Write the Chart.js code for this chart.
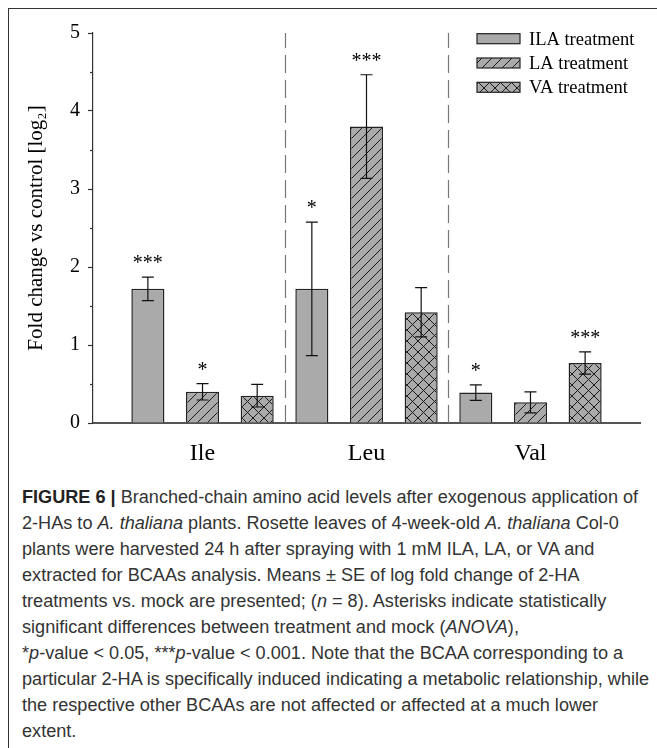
<!DOCTYPE html>
<html><head><meta charset="utf-8">
<script src="https://cdn.jsdelivr.net/npm/chart.js@4.4.1/dist/chart.umd.min.js"></script>
<style>
html,body{margin:0;padding:0;background:#fff;}
#wrap{position:relative;width:657px;height:748px;overflow:hidden;background:#fff;}
#frame{position:absolute;left:8px;top:8px;width:760px;height:800px;border-top:1px solid #333;border-left:1px solid #333;}
#c{position:absolute;left:0;top:0;}
#cap{position:absolute;left:22px;top:484px;font-family:"Liberation Sans",Arial,sans-serif;color:#333;line-height:26px;white-space:nowrap;font-size:16px;}
#cap b{font-weight:bold;color:#222;}
</style></head><body>
<div id="wrap">
<div id="frame"></div>
<canvas id="c" width="657" height="470"></canvas>
<div id="cap">
<div class="ln"><b>FIGURE 6 |</b> Branched-chain amino acid levels after exogenous application of</div>
<div class="ln">2-HAs to <i>A. thaliana</i> plants. Rosette leaves of 4-week-old <i>A. thaliana</i> Col-0</div>
<div class="ln">plants were harvested 24 h after spraying with 1 mM ILA, LA, or VA and</div>
<div class="ln">extracted for BCAAs analysis. Means ± SE of log fold change of 2-HA</div>
<div class="ln">treatments vs. mock are presented; (<i>n</i> = 8). Asterisks indicate statistically</div>
<div class="ln">significant differences between treatment and mock (<i>ANOVA</i>),</div>
<div class="ln">*<i>p</i>-value &lt; 0.05, ***<i>p</i>-value &lt; 0.001. Note that the BCAA corresponding to a</div>
<div class="ln" id="ln8">particular 2-HA is specifically induced indicating a metabolic relationship, while</div>
<div class="ln">the respective other BCAAs are not affected or affected at a much lower</div>
<div class="ln">extent.</div>
</div>
</div>
<script>
// ---- data ----
const categories = ['Ile', 'Leu', 'Val'];
const seriesNames = ['ILA treatment', 'LA treatment', 'VA treatment'];
const ilaMean = [1.72, 1.72, 0.39];
const ilaSE   = [0.15, 0.855, 0.10];
const laMean  = [0.40, 3.80, 0.265];
const laSE    = [0.105, 0.665, 0.135];
const vaMean  = [0.35, 1.42, 0.77];
const vaSE    = [0.145, 0.315, 0.143];
const ilaSig  = ['***', '*', '*'];
const laSig   = ['*', '***', ''];
const vaSig   = ['', '', '***'];
const yTicks  = [0, 1, 2, 3, 4, 5];

// ---- caption fit ----
(function(){
  const cap = document.getElementById('cap');
  const l8 = document.getElementById('ln8');
  const span = document.createElement('span');
  span.innerHTML = l8.innerHTML; l8.innerHTML = ''; l8.appendChild(span);
  const w = span.getBoundingClientRect().width;
  cap.style.fontSize = (16 * 627 / w).toFixed(2) + 'px';
})();

const canvas = document.getElementById('c');
const mainCtx = canvas.getContext('2d');
const FILL = '#aaaaaa';
function makePattern(kind){
  const s = kind === 'cross' ? 11 : 10;
  const t = document.createElement('canvas'); t.width = s; t.height = s;
  const g = t.getContext('2d');
  g.fillStyle = FILL; g.fillRect(0,0,s,s);
  g.strokeStyle = '#1a1a1a'; g.lineWidth = 1;
  g.beginPath();
  if (kind === 'diag' || kind === 'cross') {
    g.moveTo(0,s); g.lineTo(s,0);
    g.moveTo(-1,1); g.lineTo(1,-1);
    g.moveTo(s-1,s+1); g.lineTo(s+1,s-1);
  }
  if (kind === 'cross') {
    g.moveTo(0,0); g.lineTo(s,s);
    g.moveTo(-1,s-1); g.lineTo(1,s+1);
    g.moveTo(s-1,-1); g.lineTo(s+1,1);
  }
  g.stroke();
  return mainCtx.createPattern(t,'repeat');
}
const fills = [FILL, makePattern('diag'), makePattern('cross')];
const means = [ilaMean, laMean, vaMean];
const ses = [ilaSE, laSE, vaSE];
const sigs = [ilaSig, laSig, vaSig];

const SERIF = '"Liberation Serif","Times New Roman",serif';

const extras = {
  id: 'extras',
  beforeDatasetsDraw(chart){
    const {ctx, chartArea, scales:{x}} = chart;
    ctx.save();
    ctx.strokeStyle = '#777'; ctx.lineWidth = 1.2; ctx.setLineDash([18,7]);
    for (let i = 0; i < categories.length - 1; i++) {
      const px = Math.round(x.getPixelForValue(i + 0.5)) + 0.5;
      ctx.beginPath(); ctx.moveTo(px, chartArea.bottom); ctx.lineTo(px, chartArea.top); ctx.stroke();
    }
    ctx.restore();
  },
  afterDatasetsDraw(chart){
    const {ctx, scales:{y}} = chart;
    ctx.save();
    ctx.strokeStyle = '#111'; ctx.lineWidth = 1.2;
    chart.data.datasets.forEach((ds, d) => {
      const meta = chart.getDatasetMeta(d);
      meta.data.forEach((bar, i) => {
        const m = means[d][i], e = ses[d][i];
        const yt = y.getPixelForValue(m + e), yb = y.getPixelForValue(m - e);
        const bx = bar.x;
        ctx.beginPath();
        ctx.moveTo(bx, yt); ctx.lineTo(bx, yb);
        ctx.moveTo(bx - 6, yt); ctx.lineTo(bx + 6, yt);
        ctx.moveTo(bx - 6, yb); ctx.lineTo(bx + 6, yb);
        ctx.stroke();
        const s = sigs[d][i];
        if (s) {
          ctx.fillStyle = '#000';
          ctx.font = '20px ' + SERIF;
          ctx.textAlign = 'center'; ctx.textBaseline = 'alphabetic';
          ctx.fillText(s, bx, yt - 8);
        }
      });
    });
    ctx.restore();
  },
  afterDraw(chart){
    const {ctx, chartArea, scales:{y}} = chart;
    ctx.save();
    // minor ticks
    ctx.strokeStyle = '#333'; ctx.lineWidth = 1.2;
    for (let i = 0; i < yTicks.length - 1; i++) {
      const py = Math.round(y.getPixelForValue((yTicks[i] + yTicks[i+1]) / 2)) + 0.5;
      ctx.beginPath(); ctx.moveTo(chartArea.left - 3, py); ctx.lineTo(chartArea.left, py); ctx.stroke();
    }
    // legend
    chart.data.datasets.forEach((ds, d) => {
      const yc = 38.7 + d * 24.3;
      ctx.fillStyle = ds.backgroundColor;
      ctx.fillRect(477, yc - 5, 43, 10);
      ctx.strokeStyle = '#222'; ctx.lineWidth = 1.2;
      ctx.strokeRect(477, yc - 5, 43, 10);
      ctx.fillStyle = '#000';
      ctx.font = '18.5px ' + SERIF;
      ctx.textAlign = 'left'; ctx.textBaseline = 'middle';
      ctx.fillText(ds.label, 529, yc + 1);
    });
    ctx.restore();
  }
};

new Chart(canvas, {
  type: 'bar',
  data: {
    datasets: seriesNames.map((name, d) => ({
      label: name,
      data: means[d].map((v, i) => ({x: i, y: v})),
      backgroundColor: fills[d],
      borderColor: '#222',
      borderWidth: 1.5,
      borderSkipped: 'start',
      categoryPercentage: 1.0,
      barPercentage: 0.605
    }))
  },
  options: {
    responsive: false,
    animation: false,
    devicePixelRatio: 1,
    layout: {padding: {top: 33, right: 17, bottom: 0, left: 0}},
    plugins: {legend: {display: false}, tooltip: {enabled: false}},
    scales: {
      x: {
        type: 'linear', min: -0.668, max: 2.668, offset: false,
        afterBuildTicks: s => { s.ticks = categories.map((c, i) => ({value: i})); },
        ticks: {callback: v => categories[v], color: '#000', font: {family: SERIF, size: 24}, padding: 8, maxRotation: 0, autoSkip: false},
        grid: {display: false, offset: false},
        border: {display: true, color: '#555', width: 2},
        afterFit: s => { s.height = 47; }
      },
      y: {
        min: 0, max: 5,
        afterBuildTicks: s => { s.ticks = yTicks.map(v => ({value: v})); },
        ticks: {color: '#000', font: {family: SERIF, size: 20}, padding: 8},
        grid: {drawOnChartArea: false, drawTicks: true, tickLength: 5, color: '#333', tickWidth: 1.2},
        border: {display: true, color: '#333', width: 1.2},
        title: {display: true, text: 'Fold change vs control [log₂]', color: '#000', font: {family: SERIF, size: 21}, padding: {top: 24, bottom: 0}},
        afterFit: s => { s.width = 93; }
      }
    }
  },
  plugins: [extras]
});
</script>
</body></html>
